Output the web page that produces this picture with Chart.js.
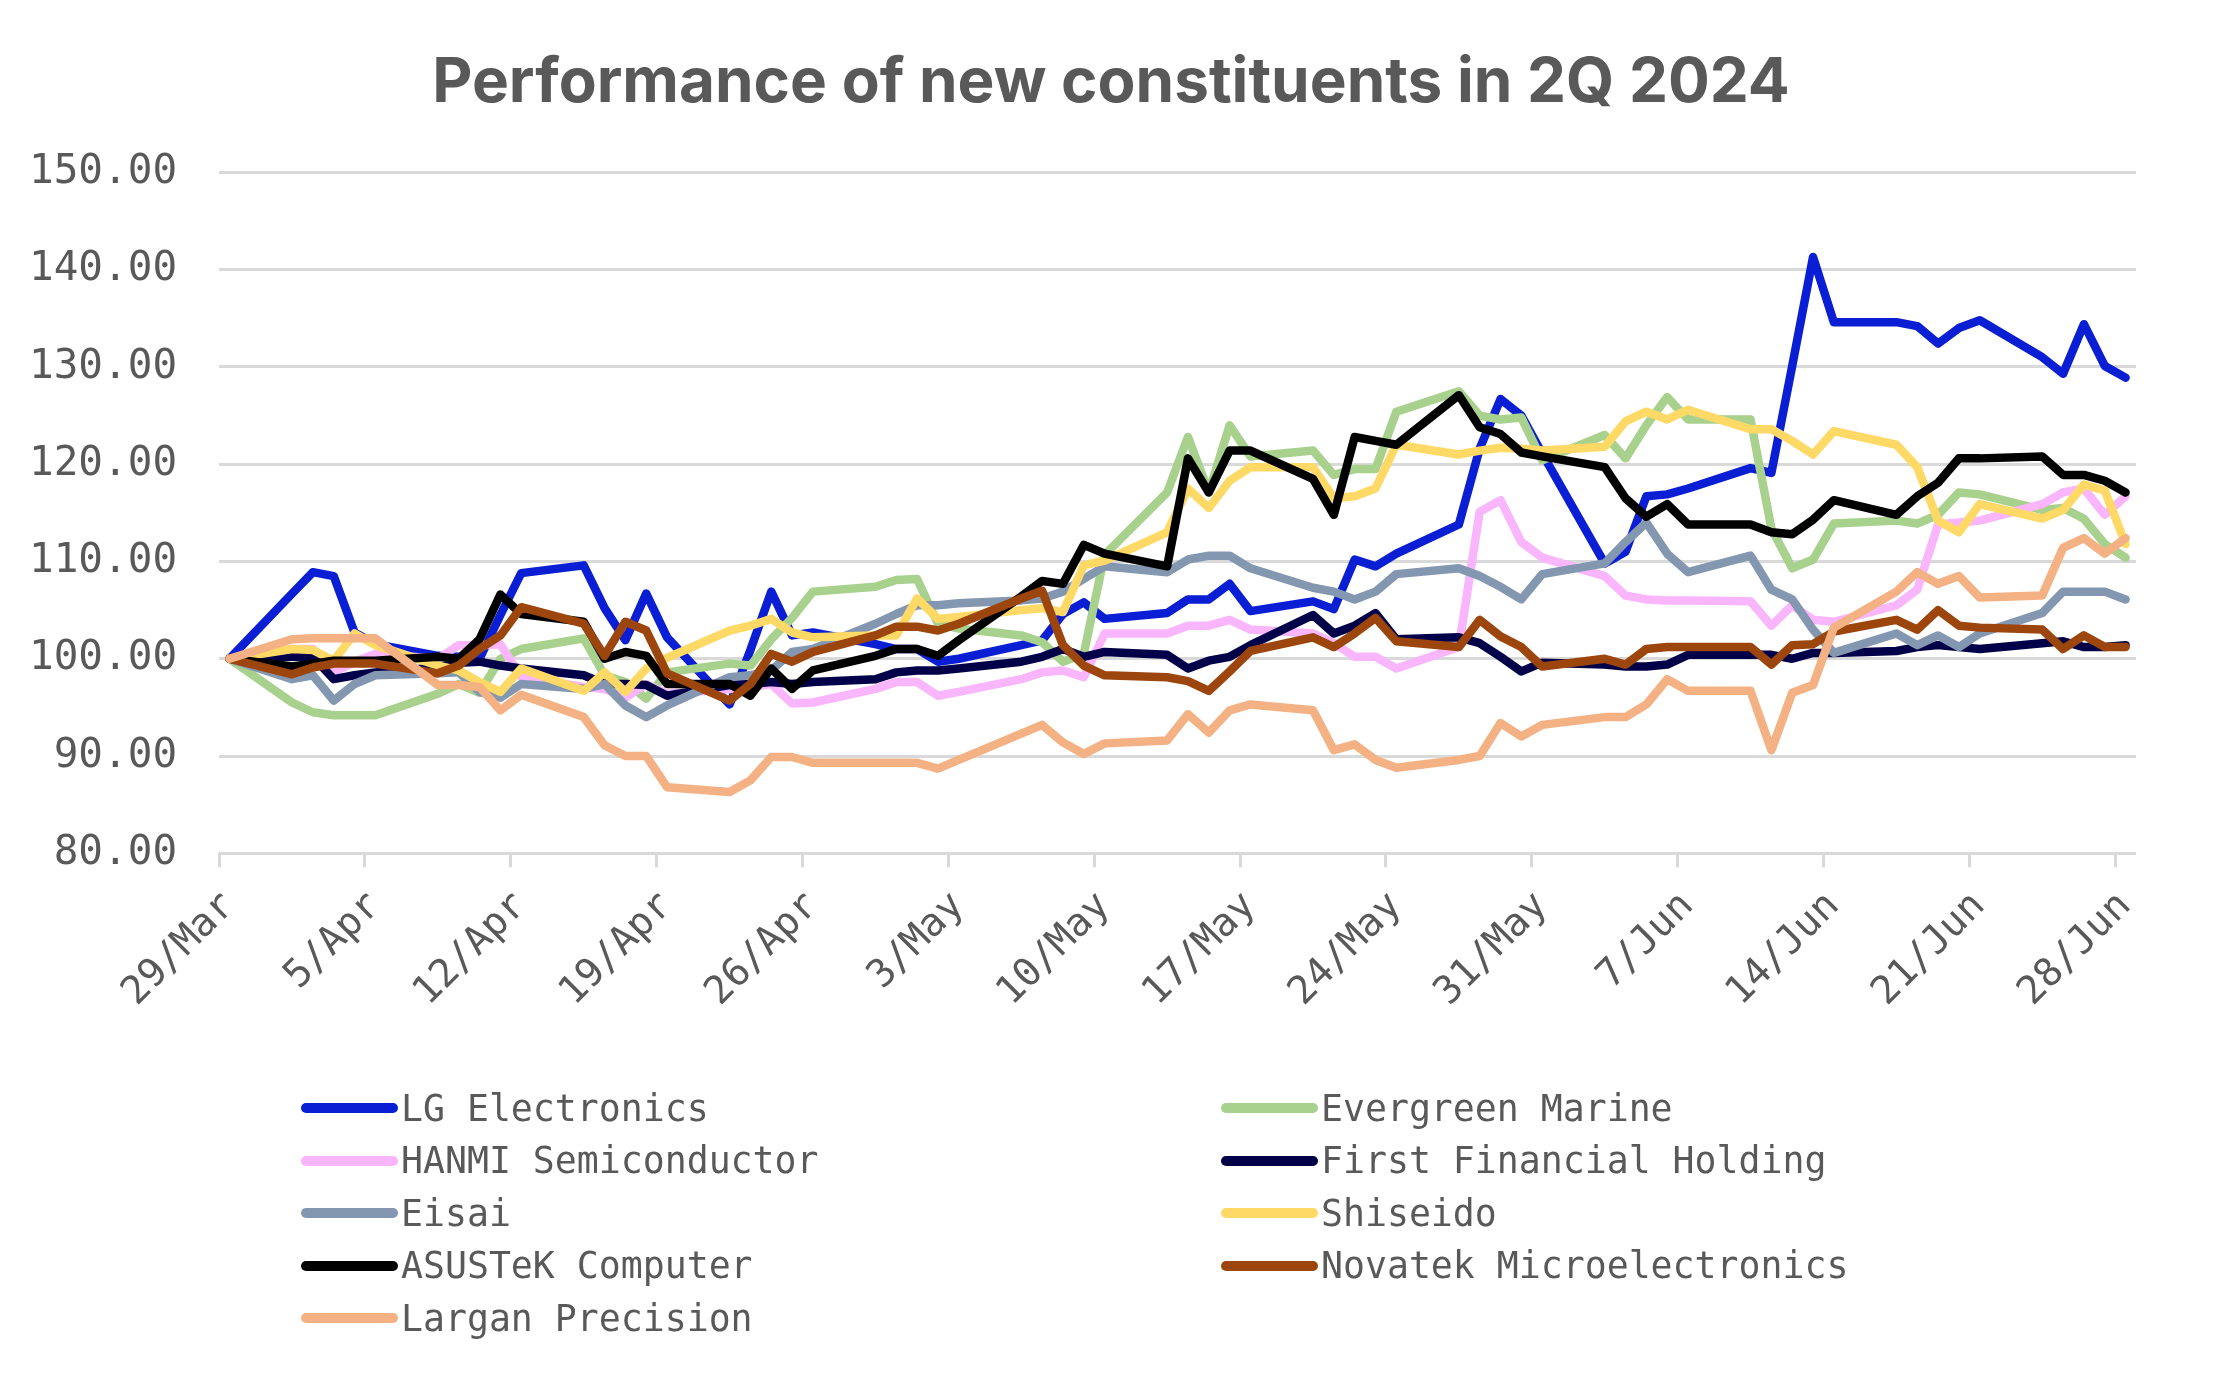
<!doctype html>
<html><head>
<meta charset="utf-8">
<script src="https://cdn.jsdelivr.net/npm/chart.js"></script>
<style type="text/css">
body { margin: 0; background: #fff; }
#wrap { position: relative; width: 2222px; height: 1375px; }
#legend { position: absolute; left: 301px; top: 1082px; display: grid; grid-template-columns: 920px 920px; }
.item { display: flex; align-items: center; height: 52.5px; font: 36.5px "DejaVu Sans Mono", monospace; color: #595959; white-space: pre; }
.swatch { width: 97px; height: 10px; border-radius: 5px; margin-right: 3px; }
</style>
</head>
<body>
<div id="wrap">
    <canvas id="myChart" width="2222" height="1375"></canvas>
    <div id="legend"></div>
</div>

<script type="text/javascript">
// trading days, one value per day per stock (rebased to 100 on 29 Mar)
var dates = [
    '2024-03-29',
    '2024-04-01', '2024-04-02', '2024-04-03', '2024-04-04', '2024-04-05',
    '2024-04-08', '2024-04-09', '2024-04-10', '2024-04-11', '2024-04-12',
    '2024-04-15', '2024-04-16', '2024-04-17', '2024-04-18', '2024-04-19',
    '2024-04-22', '2024-04-23', '2024-04-24', '2024-04-25', '2024-04-26',
    '2024-04-29', '2024-04-30', '2024-05-01', '2024-05-02', '2024-05-03',
    '2024-05-06', '2024-05-07', '2024-05-08', '2024-05-09', '2024-05-10',
    '2024-05-13', '2024-05-14', '2024-05-15', '2024-05-16', '2024-05-17',
    '2024-05-20', '2024-05-21', '2024-05-22', '2024-05-23', '2024-05-24',
    '2024-05-27', '2024-05-28', '2024-05-29', '2024-05-30', '2024-05-31',
    '2024-06-03', '2024-06-04', '2024-06-05', '2024-06-06', '2024-06-07',
    '2024-06-10', '2024-06-11', '2024-06-12', '2024-06-13', '2024-06-14',
    '2024-06-17', '2024-06-18', '2024-06-19', '2024-06-20', '2024-06-21',
    '2024-06-24', '2024-06-25', '2024-06-26', '2024-06-27', '2024-06-28'
];

var weekLabels = ['29/Mar', '5/Apr', '12/Apr', '19/Apr', '26/Apr', '3/May', '10/May',
    '17/May', '24/May', '31/May', '7/Jun', '14/Jun', '21/Jun', '28/Jun'];

var lgElectronics = [100,
    106.7, 108.9, 108.5, 102.7, 101.5,
    100.3, 100.2, 100.0, 104.5, 108.8,
    109.6, 105.2, 101.9, 106.7, 102.2,
    95.3, 100.9, 106.9, 102.4, 102.7,
    101.5, 101.0, 101.0, 99.7, 100.0,
    101.4, 101.9, 104.6, 105.8, 104.1,
    104.7, 106.1, 106.1, 107.7, 104.9,
    105.9, 105.1, 110.2, 109.5, 110.8,
    113.8, 121.6, 126.7, 125.0, 121.1,
    109.8, 111.0, 116.7, 116.9, 117.5,
    119.6, 119.1, 130.1, 141.3, 134.6,
    134.6, 134.2, 132.4, 134.0, 134.8,
    131.0, 129.3, 134.4, 130.1, 128.9];

var evergreenMarine = [100,
    95.5, 94.5, 94.2, 94.2, 94.2,
    96.4, 97.4, 96.5, 100.0, 101.0,
    102.1, 98.3, 97.6, 95.9, 98.6,
    99.5, 99.3, 102.0, 104.2, 106.9,
    107.4, 108.1, 108.2, 103.6, 103.1,
    102.4, 101.7, 99.7, 100.5, 110.7,
    117.1, 122.8, 117.1, 124.0, 120.8,
    121.4, 118.9, 119.5, 119.5, 125.4,
    127.5, 125.0, 124.6, 124.8, 120.4,
    123.0, 120.6, 124.0, 126.9, 124.6,
    124.6, 113.4, 109.3, 110.2, 113.9,
    114.2, 113.9, 114.8, 117.1, 116.9,
    115.3, 115.5, 114.4, 111.8, 110.4];

var hanmiSemi = [100,
    101.0, 101.0, 98.6, 99.7, 100.5,
    100.0, 101.4, 101.4, 101.5, 98.1,
    97.1, 96.9, 96.0, 97.4, 96.4,
    96.9, 97.1, 97.4, 95.4, 95.5,
    96.9, 97.6, 97.6, 96.2, 96.6,
    97.9, 98.6, 98.8, 98.1, 102.6,
    102.6, 103.4, 103.4, 104.0, 103.0,
    102.6, 101.6, 100.2, 100.2, 99.0,
    101.2, 115.1, 116.3, 112.0, 110.4,
    108.5, 106.5, 106.1, 106.0, 106.0,
    105.9, 103.4, 105.5, 104.0, 103.8,
    105.5, 107.1, 113.8, 114.0, 114.2,
    115.9, 117.1, 117.5, 114.8, 116.7];

var firstFinancial = [100,
    100.2, 100.2, 97.9, 98.3, 98.6,
    99.1, 99.6, 99.7, 99.3, 99.0,
    98.3, 97.4, 97.4, 97.3, 96.2,
    97.3, 97.4, 97.6, 97.4, 97.6,
    97.9, 98.6, 98.8, 98.8, 99.0,
    99.7, 100.2, 101.0, 100.2, 100.7,
    100.4, 99.0, 99.8, 100.2, 101.4,
    104.5, 102.6, 103.4, 104.7, 102.0,
    102.2, 101.6, 100.2, 98.7, 99.6,
    99.4, 99.2, 99.2, 99.4, 100.4,
    100.4, 100.4, 100.0, 100.6, 100.6,
    100.8, 101.2, 101.4, 101.2, 101.0,
    101.6, 101.8, 101.2, 101.2, 101.4];

var eisai = [100,
    97.9, 98.3, 95.7, 97.4, 98.3,
    98.5, 98.6, 96.6, 96.0, 97.4,
    96.9, 97.4, 95.2, 94.0, 95.2,
    98.1, 98.3, 98.8, 100.7, 101.0,
    103.6, 104.6, 105.5, 105.5, 105.7,
    106.0, 106.2, 106.9, 108.2, 109.5,
    108.9, 110.2, 110.6, 110.6, 109.3,
    107.3, 106.9, 106.1, 106.9, 108.7,
    109.3, 108.5, 107.4, 106.1, 108.7,
    109.8, 112.0, 114.0, 110.8, 108.9,
    110.6, 107.1, 106.1, 103.0, 100.6,
    102.6, 101.4, 102.4, 101.2, 102.6,
    104.7, 106.9, 106.9, 106.9, 106.1];

var shiseido = [100,
    101.0, 100.9, 99.8, 102.6, 101.4,
    99.3, 98.8, 97.6, 96.6, 99.0,
    96.7, 98.6, 96.6, 99.0, 100.1,
    102.9, 103.4, 104.1, 102.7, 102.2,
    102.4, 102.4, 106.2, 104.1, 104.3,
    105.0, 105.2, 104.8, 109.6, 110.1,
    113.0, 117.5, 115.5, 118.3, 119.7,
    119.7, 116.5, 116.7, 117.5, 122.0,
    121.0, 121.4, 121.7, 121.6, 121.4,
    121.8, 124.4, 125.4, 124.6, 125.6,
    123.6, 123.6, 122.4, 121.0, 123.4,
    122.0, 119.7, 114.2, 113.0, 115.9,
    114.4, 115.3, 117.9, 117.3, 111.8];

var asustek = [100,
    99.2, 99.5, 99.8, 99.8, 99.8,
    100.2, 100.0, 102.0, 106.6, 104.6,
    103.8, 100.0, 100.7, 100.3, 97.4,
    97.4, 96.2, 99.0, 96.9, 98.8,
    100.3, 101.0, 101.0, 100.3, 101.9,
    106.4, 108.0, 107.7, 111.7, 110.8,
    109.5, 120.6, 117.1, 121.4, 121.4,
    118.5, 114.8, 122.8, 122.4, 122.0,
    127.1, 123.8, 123.1, 121.2, 120.8,
    119.7, 116.5, 114.6, 115.9, 113.8,
    113.8, 113.0, 112.8, 114.3, 116.3,
    114.8, 116.7, 118.1, 120.6, 120.6,
    120.8, 118.9, 118.9, 118.3, 117.1];

var novatek = [100,
    98.4, 99.1, 99.5, 99.5, 99.5,
    98.5, 99.3, 101.0, 102.4, 105.3,
    103.6, 100.3, 103.8, 102.9, 98.5,
    95.7, 97.4, 100.5, 99.7, 100.7,
    102.4, 103.3, 103.3, 102.9, 103.6,
    106.2, 107.0, 101.4, 99.3, 98.3,
    98.1, 97.7, 96.7, 98.7, 100.8,
    102.2, 101.2, 102.6, 104.2, 101.8,
    101.2, 104.0, 102.3, 101.2, 99.2,
    100.0, 99.4, 101.0, 101.2, 101.2,
    101.2, 99.4, 101.4, 101.5, 102.8,
    104.0, 103.0, 105.0, 103.4, 103.2,
    103.0, 101.0, 102.4, 101.2, 101.2];

var larganPrecision = [100,
    102.0, 102.1, 102.1, 102.1, 102.1,
    97.3, 97.3, 97.1, 94.7, 96.3,
    94.0, 91.1, 90.0, 90.0, 86.8,
    86.3, 87.5, 89.9, 89.9, 89.3,
    89.3, 89.3, 89.3, 88.7, 89.6,
    92.3, 93.2, 91.4, 90.2, 91.3,
    91.6, 94.3, 92.4, 94.7, 95.3,
    94.7, 90.6, 91.2, 89.6, 88.8,
    89.6, 90.0, 93.4, 92.0, 93.2,
    94.0, 94.0, 95.3, 97.9, 96.7,
    96.7, 90.6, 96.5, 97.3, 103.2,
    106.9, 108.9, 107.7, 108.5, 106.3,
    106.5, 111.4, 112.4, 110.8, 112.4];

var seriesNames = ['LG Electronics', 'Evergreen Marine', 'HANMI Semiconductor', 'First Financial Holding',
    'Eisai', 'Shiseido', 'ASUSTeK Computer', 'Novatek Microelectronics', 'Largan Precision'];
var seriesValues = [lgElectronics, evergreenMarine, hanmiSemi, firstFinancial,
    eisai, shiseido, asustek, novatek, larganPrecision];
var seriesColors = ['#0A1ED4', '#A9D18E', '#F9B6FC', '#020048',
    '#8497B0', '#FFD966', '#000000', '#9C460E', '#F4B183'];

var MONO = '"DejaVu Sans Mono", monospace';
var TEXT = '#595959';
var GRID = '#D9D9D9';
var Y_PAD = 42;

var start = Date.UTC(2024, 2, 29);
function dayOffset(s) {
    var p = s.split('-');
    return (Date.UTC(+p[0], +p[1] - 1, +p[2]) - start) / 86400000;
}

var datasets = seriesNames.map(function(name, i) {
    return {
        label: name,
        // each day sits in the middle of its slot on the date axis
        data: dates.map(function(d, j) { return { x: dayOffset(d) + 0.5, y: seriesValues[i][j] }; }),
        borderColor: seriesColors[i],
        backgroundColor: seriesColors[i],
        borderWidth: 8.5,
        pointRadius: 0,
        tension: 0,
        borderJoinStyle: 'round',
        borderCapStyle: 'round',
        order: seriesNames.length - i   // later series on top
    };
});

var myChart = new Chart(document.getElementById('myChart'), {
    type: 'line',
    data: { datasets: datasets },
    options: {
        responsive: false,
        animation: false,
        devicePixelRatio: 1,
        layout: { padding: { left: 29, right: 29, top: 0, bottom: 343 } },
        plugins: {
            legend: { display: false },
            tooltip: { enabled: false },
            title: {
                display: true,
                text: 'Performance of new constituents in 2Q 2024',
                color: TEXT,
                font: { family: 'Inter', size: 62, weight: 'bold' },
                padding: { top: 46, bottom: 52 }
            }
        },
        scales: {
            x: {
                type: 'linear',
                min: 0,
                max: 92,
                afterBuildTicks: function(scale) {
                    scale.ticks = weekLabels.map(function(l, i) { return { value: i * 7 }; });
                },
                // first label hangs left of the plot; keep room at the right end
                afterFit: function(scale) { scale.paddingLeft = 0; scale.paddingRight = 86; },
                ticks: {
                    autoSkip: false,
                    minRotation: 45,
                    maxRotation: 45,
                    color: TEXT,
                    font: { family: MONO, size: 39 },
                    padding: 16,
                    labelOffset: 10,
                    callback: function(v) { return weekLabels[Math.round(v / 7)]; }
                },
                grid: { drawOnChartArea: false, color: GRID, lineWidth: 3, tickLength: 14 },
                border: { display: false }
            },
            y: {
                min: 80,
                max: 150,
                // padding only between labels and plot, not on the outer side
                afterFit: function(scale) { scale.width -= Y_PAD; },
                ticks: {
                    stepSize: 10,
                    color: TEXT,
                    padding: Y_PAD,
                    font: { family: MONO, size: 41 },
                    callback: function(v) { return v.toFixed(2); }
                },
                grid: { color: GRID, lineWidth: 3, drawTicks: false },
                border: { display: false }
            }
        }
    }
});

// two column legend, row by row like the original
var legend = document.getElementById('legend');
seriesNames.forEach(function(name, i) {
    var item = document.createElement('div');
    item.className = 'item';
    var sw = document.createElement('span');
    sw.className = 'swatch';
    sw.style.background = seriesColors[i];
    item.appendChild(sw);
    item.appendChild(document.createTextNode(name));
    legend.appendChild(item);
});
</script>
</body>
</html>
